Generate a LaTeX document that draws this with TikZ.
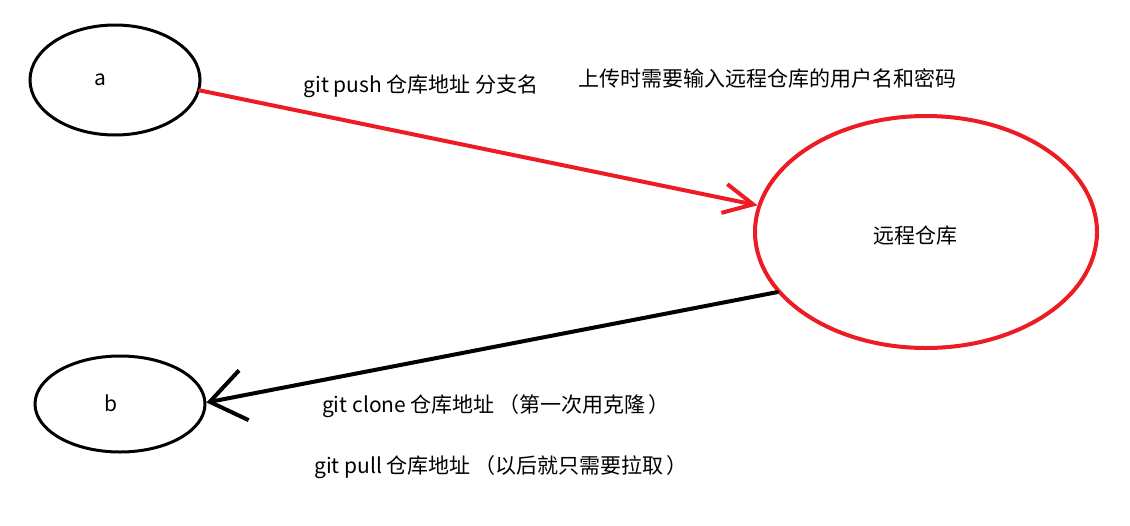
\documentclass[tikz,border=0pt]{standalone}
\usepackage{fontspec}
\setmainfont{Noto Sans CJK SC}
\usetikzlibrary{shapes.geometric,arrows.meta}
\definecolor{paintred}{RGB}{237,28,36}
\begin{document}
\begin{tikzpicture}
  [x=0.75pt,y=-0.75pt,line cap=round,
   % Styles
   client/.style={ellipse,draw,line width=2.25pt,inner sep=0pt,
     minimum width=127.5pt},
   repo/.style={ellipse,draw=paintred,line width=3pt,inner sep=0pt,
     minimum width=256.5pt,minimum height=174pt},
   push line/.style={draw=paintred,line width=3pt,
     -{Straight Barb[length=22pt,width=22pt]}},
   pull line/.style={draw,line width=3pt,
     -{Straight Barb[length=26pt,width=38pt]}},
   note/.style={font=\fontsize{15.75}{19}\selectfont,inner sep=0pt}]

  \useasboundingbox (0,0) rectangle (1130,525);

  % The ellipses
  \node[client,minimum height=82.5pt] (a) at (115,80) {};
  \node[client,minimum height=72pt] (b) at (120,404) {};
  \node[repo] (remote) at (926,232) {};

  \node[note] (atext) at (100,80) {a};
  \node[note] (btext) at (111,403) {b};
  \node[note] (remotetext) at (915,236) {远程仓库};

  % The arrows
  \draw[push line] (a.-7) -- (remote.171);
  \draw[pull line] (remote.202) -- (b.1);

  % Texts
  \node[note] (push) at (421,86) {git push 仓库地址 分支名};
  \node[note] (login) at (767,78) {上传时需要输入远程仓库的用户名和密码};
  \node[note] (clone) at (496,406) {git clone 仓库地址\,（第一次用克隆\,）};
  \node[note] (pull) at (501,467) {git pull 仓库地址\,（以后就只需要拉取\,）};
\end{tikzpicture}
\end{document}
